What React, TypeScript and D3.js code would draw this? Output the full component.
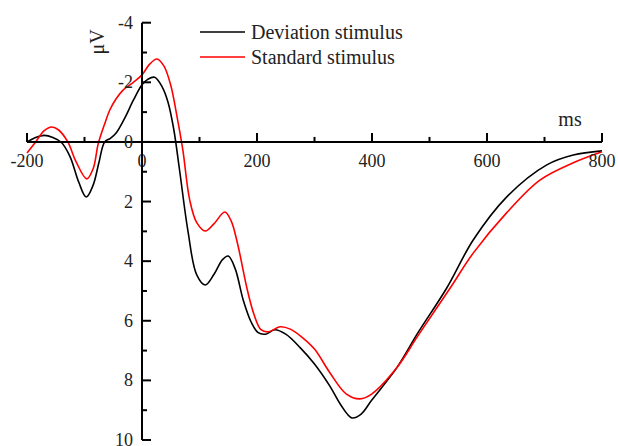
import React from "react";
import * as d3 from "d3";

// deviation stimulus (black), ms / µV
const devTimes = [-200, -185, -170, -155, -140, -125, -110, -97, -85, -75, -65, -55, -45, -30, -15, 0, 10, 22, 35, 45, 55, 65, 80, 95, 110, 125, 140, 150, 162, 176, 190, 202, 215, 231, 250, 275, 300, 327, 345, 365, 380, 400, 443, 480, 530, 576, 634, 704, 750, 800];
const devValues = [0.0, -0.15, -0.22, -0.15, 0.02, 0.5, 1.35, 1.85, 1.45, 0.7, 0.0, -0.12, -0.3, -0.8, -1.4, -1.92, -2.1, -2.17, -1.85, -1.35, -0.45, 0.9, 3.0, 4.45, 4.8, 4.45, 3.95, 3.83, 4.25, 5.3, 6.05, 6.4, 6.45, 6.3, 6.45, 6.9, 7.45, 8.2, 8.8, 9.26, 9.15, 8.65, 7.58, 6.4, 4.9, 3.29, 1.85, 0.77, 0.44, 0.3];

// standard stimulus (red)
const stdTimes = [-200, -185, -170, -157, -145, -129, -115, -96, -85, -76, -65, -56, -45, -33, -15, 0, 13, 26, 38, 50, 61, 71, 83, 95, 110, 125, 144, 155, 166, 183, 195, 207, 220, 240, 258, 280, 300, 327, 355, 379, 400, 443, 480, 536, 576, 634, 692, 750, 800];
const stdValues = [0.37, 0.0, -0.38, -0.5, -0.4, 0.0, 0.65, 1.24, 0.9, 0.05, -0.6, -1.07, -1.45, -1.74, -2.0, -2.25, -2.6, -2.78, -2.55, -1.9, -0.84, 0.27, 1.95, 2.7, 2.99, 2.75, 2.35, 2.65, 3.4, 4.95, 5.8, 6.3, 6.37, 6.2, 6.28, 6.58, 6.95, 7.75, 8.45, 8.62, 8.45, 7.58, 6.5, 4.9, 3.73, 2.38, 1.28, 0.7, 0.33];

const xMajor = [-200, 0, 200, 400, 600, 800];
const xMinor = [-100, 100, 300, 500, 700];
const yMajor = [-4, -2, 0, 2, 4, 6, 8, 10];
const yMinor = [-3, -1, 1, 3, 5, 7, 9];

const legendNames = ["Deviation stimulus", "Standard stimulus"];
const legendColors = ["#000000", "#ff0000"];

const W = 618;
const H = 446;
const font = "'Liberation Serif', 'Times New Roman', serif";

export default function App() {
  const x = d3.scaleLinear().domain([-200, 800]).range([27, 602]);
  const y = d3.scaleLinear().domain([-4, 10]).range([22.7, 440]);
  const x0 = x(0);
  const y0 = y(0);

  const line = d3
    .line<[number, number]>()
    .x((d) => x(d[0]))
    .y((d) => y(d[1]))
    .curve(d3.curveCatmullRom.alpha(0.5));

  const devPts = devTimes.map((t, i) => [t, devValues[i]] as [number, number]);
  const stdPts = stdTimes.map((t, i) => [t, stdValues[i]] as [number, number]);

  return (
    <svg
      width={W}
      height={H}
      style={{ position: "absolute", left: 0, top: 0, background: "#fff" }}
      fontFamily={font}
    >
      {/* curves */}
      <path d={line(devPts) || ""} fill="none" stroke={legendColors[0]} strokeWidth={1.6} />
      <path d={line(stdPts) || ""} fill="none" stroke={legendColors[1]} strokeWidth={1.6} />

      {/* x axis at 0 µV */}
      <line x1={x(-200)} x2={x(800)} y1={y0} y2={y0} stroke="#000" strokeWidth={2} />
      {xMajor.map((t) => (
        <g key={"xM" + t}>
          <line x1={x(t)} x2={x(t)} y1={y0} y2={y0 - 9} stroke="#000" strokeWidth={2} />
          <text x={x(t)} y={y0 + 25} textAnchor="middle" fontSize={18} fill="#222">
            {t}
          </text>
        </g>
      ))}
      {xMinor.map((t) => (
        <line key={"xm" + t} x1={x(t)} x2={x(t)} y1={y0} y2={y0 - 5} stroke="#000" strokeWidth={2} />
      ))}
      <text x={570} y={126} textAnchor="middle" fontSize={20} fill="#222">
        ms
      </text>

      {/* y axis at 0 ms */}
      <line x1={x0} x2={x0} y1={y(-4)} y2={y(10)} stroke="#000" strokeWidth={2} />
      {yMajor.map((v) => (
        <g key={"yM" + v}>
          <line x1={x0} x2={x0 + 9} y1={y(v)} y2={y(v)} stroke="#000" strokeWidth={2} />
          <text x={x0 - 9} y={y(v) + 6} textAnchor="end" fontSize={18} fill="#222">
            {v}
          </text>
        </g>
      ))}
      {yMinor.map((v) => (
        <line key={"ym" + v} x1={x0} x2={x0 + 5} y1={y(v)} y2={y(v)} stroke="#000" strokeWidth={2} />
      ))}
      <text
        transform="translate(104,42) rotate(-90)"
        textAnchor="middle"
        fontSize={20}
        fill="#222"
      >
        μV
      </text>

      {/* legend */}
      {legendNames.map((name, i) => (
        <g key={name} transform={`translate(200,${32 + i * 25})`}>
          <line x1={0} x2={45} y1={0} y2={0} stroke={legendColors[i]} strokeWidth={1.6} />
          <text x={51} y={7} fontSize={20} fill="#222">
            {name}
          </text>
        </g>
      ))}
    </svg>
  );
}
